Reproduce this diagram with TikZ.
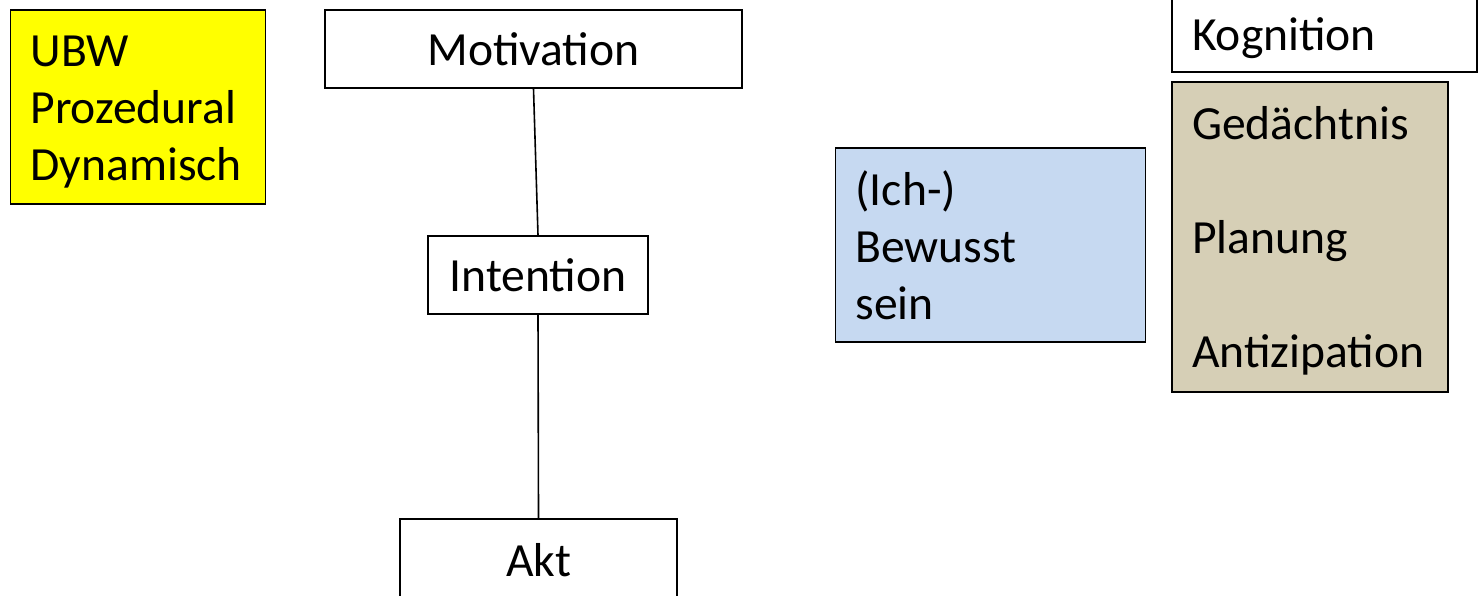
\documentclass[tikz,border=0pt]{standalone}
\usepackage{fontspec}
\setmainfont{Carlito}
\usepackage{xcolor}
\usepackage{tikz}
\usetikzlibrary{positioning}
\definecolor{ubwyellow}{RGB}{255,255,0}
\definecolor{ichblue}{RGB}{198,217,241}
\definecolor{kogtan}{RGB}{214,207,182}

\begin{document}
\begin{tikzpicture}[x=0.5pt,y=-0.5pt,
    box/.style={draw,line width=0.8pt,inner xsep=10pt,inner ysep=0pt,font=\fontsize{23.8}{28.5}\selectfont},
    cbox/.style={box,align=center},
    lbox/.style={box,align=left},
    lowbox/.style={lbox,execute at begin node={\rule{0pt}{20pt}}}]
\useasboundingbox (0,0) rectangle (1481,595);

\node[lowbox,fill=ubwyellow,text width=107.5pt,minimum height=97pt] (ubw) at (138,107) {UBW\\Prozedural\\Dynamisch};
\node[cbox,minimum width=208.5pt,minimum height=39pt] (motiv) at (533.5,49) {Motivation};
\node[cbox,minimum width=110pt,minimum height=39pt] (intent) at (538,275) {Intention};
\node[cbox,minimum width=138.5pt,minimum height=41pt] (akt) at (538.5,560) {Akt};
\node[lbox,fill=ichblue,text width=135pt,minimum height=97pt] (ich) at (990.5,245) {(Ich-)\\Bewusst\\sein};
\node[lowbox,text width=132.5pt,minimum height=37pt] (kogn) at (1324.5,35) {Kognition};
\node[lowbox,fill=kogtan,text width=118pt,minimum height=155pt] (gedae) at (1310,237) {Gedächtnis\\~\\Planung\\~\\Antizipation};

\draw[line width=0.8pt] (motiv.south) -- (intent.north);
\draw[line width=0.8pt] (intent.south) -- (akt.north);
\end{tikzpicture}
\end{document}
